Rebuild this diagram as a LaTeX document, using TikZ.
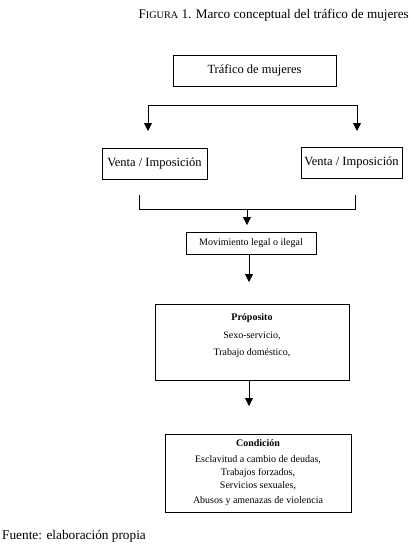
\documentclass[tikz,border=0pt]{standalone}
\usepackage{fontspec}
\setmainfont{Liberation Serif}
\usetikzlibrary{arrows.meta}
\begin{document}
\begin{tikzpicture}[x=1pt,y=-1pt,
  box/.style={draw, line width=0.8pt, inner sep=0pt, align=center},
  arr/.style={-{Triangle[length=8pt,width=8pt]}, line width=0.8pt},
  ln/.style={line width=0.8pt},
  big/.style={font=\fontsize{12.5}{15}\selectfont},
  small/.style={font=\fontsize{10}{13}\selectfont}]
\useasboundingbox (0,0) rectangle (414,544);
% title
\node[anchor=base east, inner sep=0pt, font=\fontsize{13.2}{15}\selectfont] (title) at (409,18)
  {{\fontsize{13.2}{15}\selectfont F\fontsize{10.2}{15}\selectfont IGURA} 1. Marco conceptual del tráfico de mujeres};
% boxes
\node[box, big, minimum width=163, minimum height=31] (traf) at (254.5,70.5) {Tráfico de mujeres};
\node[box, big, minimum width=105, minimum height=31] (vl) at (154.5,163.5) {Venta / Imposición};
\node[box, big, minimum width=101, minimum height=31] (vr) at (351.5,162.5) {Venta / Imposición};
\node[box, small, minimum width=130, minimum height=22] (mov) at (251,243) {Movimiento legal o ilegal};
\node[box, minimum width=194, minimum height=76] (prop) at (252,342) {};
\node[small, align=center, inner sep=0pt] (propt) at (252,336)
  {\textbf{Próposito}\\[4.5pt]Sexo-servicio,\\[4.5pt]Trabajo doméstico,};
\node[box, minimum width=186, minimum height=78] (cond) at (258,473) {};
\node[small, align=center, inner sep=0pt] (condt) at (258,473)
  {\textbf{Condición}\\[3pt]Esclavitud a cambio de deudas,\\Trabajos forzados,\\Servicios sexuales,\\[2pt]Abusos y amenazas de violencia};
% footer
\node[anchor=base west, inner sep=0pt, font=\fontsize{13.3}{15}\selectfont] (foot) at (2,539) {Fuente: elaboración propia};
% upper split
\coordinate (s1) at (148,105);
\coordinate (s2) at (357,105);
\coordinate (t1) at (148,131);
\coordinate (t2) at (357,131);
\draw[ln] (s1) -- (s2);
\draw[arr] (s1) -- (t1);
\draw[arr] (s2) -- (t2);
% bracket
\coordinate (b1) at (139,195);
\coordinate (b2) at (355,195);
\coordinate (b1b) at (139,209);
\coordinate (b2b) at (355,209);
\coordinate (bm) at (247,209);
\coordinate (bt) at (247,225);
\draw[ln] (b1) -- (b1b) -- (b2b) -- (b2);
\draw[arr] (bm) -- (bt);
% lower arrows
\coordinate (m1) at (249,282);
\draw[arr] (mov.south -| m1) -- (m1);
\coordinate (p1) at (249,406);
\draw[arr] (prop.south -| p1) -- (p1);
\end{tikzpicture}
\end{document}
